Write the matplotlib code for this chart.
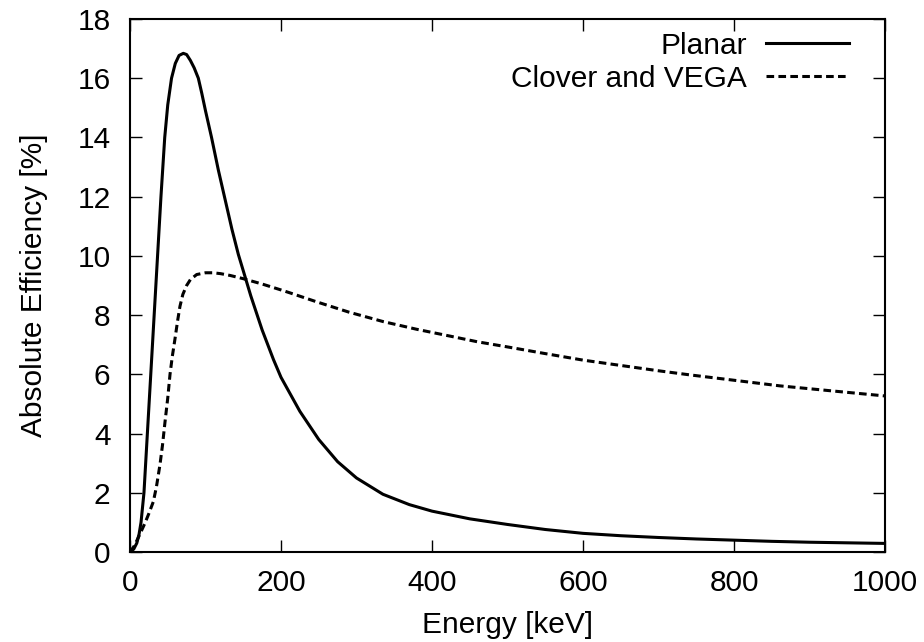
import matplotlib
matplotlib.use("Agg")
import matplotlib.pyplot as plt

# --- dados ---
energia_planar = [0, 5, 9, 12, 14.6, 18.5, 23, 27.5, 32, 36.5, 41, 46, 50, 55, 60, 65, 70.6,
                  75, 80, 85, 90.5, 95, 100, 108, 117, 126, 135, 143.5, 150, 160, 175,
                  190, 200, 225, 250, 275, 300, 335, 370, 400, 450, 500, 550, 600,
                  650, 700, 750, 800, 850, 900, 950, 1000]
efic_planar = [0, 0.1, 0.3, 0.6, 1.0, 2.0, 4.0, 6.0, 8.0, 10.0, 12.0, 14.0, 15.1, 16.0, 16.5, 16.77, 16.84,
               16.8, 16.6, 16.35, 16.0, 15.5, 14.9, 14.0, 12.9, 11.9, 10.9, 10.05, 9.5, 8.65, 7.5,
               6.5, 5.9, 4.75, 3.8, 3.05, 2.5, 1.95, 1.6, 1.38, 1.12, 0.93, 0.76, 0.63,
               0.55, 0.49, 0.44, 0.40, 0.36, 0.33, 0.31, 0.29]

energia_clover = [0, 5, 8.8, 14, 19.9, 25, 30.9, 35, 39.7, 43, 46.4, 50, 53, 56, 59.6, 63,
                  66.2, 70, 75, 80, 88.3, 100, 110, 120, 132.5, 150, 175, 200, 212, 247,
                  290, 335.5, 380, 424, 460, 499, 550, 600, 650, 700, 742, 800, 861, 930, 1000]
efic_clover = [0, 0.18, 0.37, 0.65, 0.98, 1.3, 1.7, 2.2, 2.95, 3.6, 4.4, 5.2, 6.0, 6.6, 7.2, 7.8,
               8.3, 8.7, 9.0, 9.2, 9.37, 9.43, 9.43, 9.4, 9.34, 9.23, 9.05, 8.85, 8.75, 8.45,
               8.1, 7.78, 7.52, 7.29, 7.1, 6.93, 6.7, 6.48, 6.3, 6.12, 5.98, 5.8, 5.61, 5.44, 5.27]

x_ticks = [0, 200, 400, 600, 800, 1000]
y_ticks = [0, 2, 4, 6, 8, 10, 12, 14, 16, 18]

plt.rcParams['font.family'] = ['Liberation Sans', 'DejaVu Sans']
plt.rcParams['font.size'] = 21.5

fig = plt.figure(figsize=(9.24, 6.42), dpi=100)
ax = fig.add_axes([130 / 924, 1 - 552 / 642, 755 / 924, 533 / 642])

ax.plot(energia_planar, efic_planar, color='black', lw=2.2, label='Planar')
ax.plot(energia_clover, efic_clover, color='black', lw=2.2, dashes=(2.5, 1.4),
        label='Clover and VEGA')

ax.set_xlim(0, 1000)
ax.set_ylim(0, 18)
ax.set_xticks(x_ticks)
ax.set_yticks(y_ticks)
ax.tick_params(direction='in', length=8.5, width=1.0, top=True, right=True)
ax.tick_params(axis='x', pad=12.5)
ax.tick_params(axis='y', pad=14)
for s in ax.spines.values():
    s.set_linewidth(1.5)

ax.set_xlabel('Energy [keV]', labelpad=9.5)
ax.set_ylabel('Absolute Efficiency [%]', labelpad=21)

ax.legend(loc='upper right', bbox_to_anchor=(0.952, 0.976), frameon=False,
          markerfirst=False, handlelength=2.77, handletextpad=0.63,
          labelspacing=0.17, borderaxespad=0, borderpad=0)

fig.savefig('out.png', dpi=100)
